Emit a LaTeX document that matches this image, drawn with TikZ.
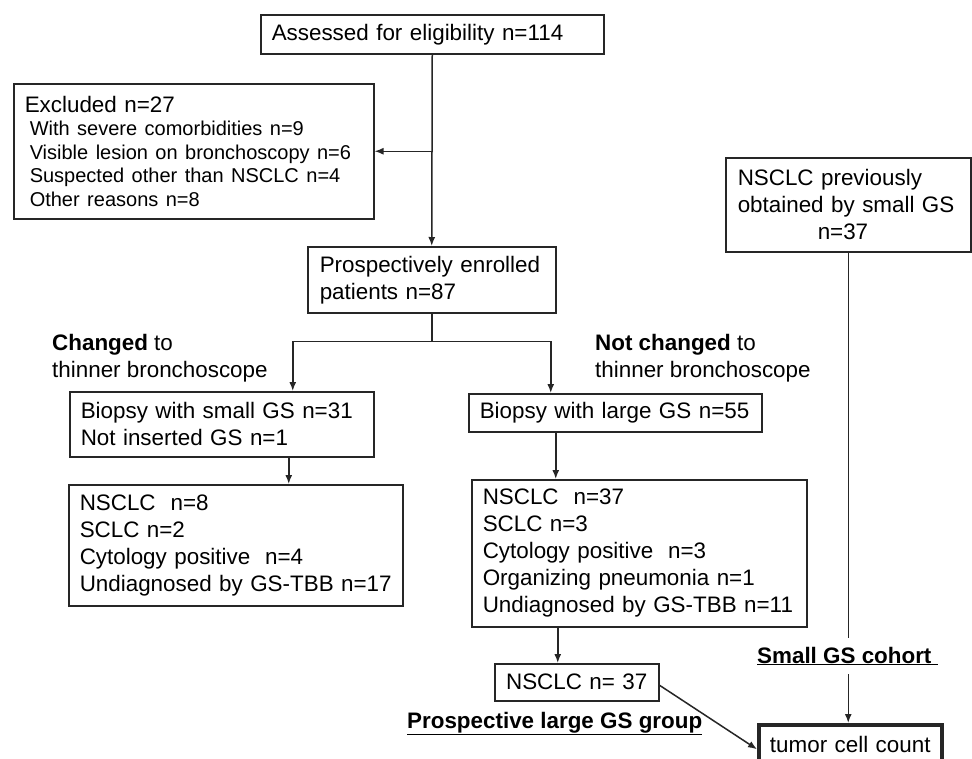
\documentclass[tikz,border=0pt]{standalone}
\usepackage{fontspec}
\setmainfont{Liberation Sans}
\usepackage{tikz}
\usetikzlibrary{arrows.meta,positioning,calc}
\setlength{\parindent}{0pt}
\newcommand{\FontBox}{\fontsize{22.4pt}{27pt}\selectfont}
\newcommand{\FontItem}{\fontsize{20pt}{23.5pt}\selectfont}
\tikzset{
  flowbox/.style={draw=black!85, line width=1.5pt, anchor=north west, align=left, inner xsep=11pt, inner ysep=0pt, font=\FontBox},
  flowlabel/.style={anchor=north west, inner sep=0pt, align=left, font=\FontBox},
  grouplabel/.style={anchor=base west, inner xsep=0pt, inner ysep=9pt, font=\FontBox},
  flowarrow/.style={draw=black!85, -{Latex[length=9pt,width=7pt]}, line width=1.5pt},
  flowline/.style={draw=black!85, line width=1.5pt}
}

\begin{document}
\begin{tikzpicture}[x=1pt,y=-1pt]

      \useasboundingbox[fill=white] (0,0) rectangle (972,758);
      \clip (0,0) rectangle (972,758);

      \node[flowbox, text width=321pt, minimum height=39pt] (assess) at (260,14) {Assessed for eligibility n=114};
      \node[flowbox, text width=338pt, minimum height=135pt] (excl) at (13,83) {Excluded n=27\par{\FontItem\leftskip=5pt With severe comorbidities n=9\\Visible lesion on bronchoscopy n=6\\Suspected other than NSCLC n=4\\Other reasons n=8\par}};
      \node[flowbox, text width=224pt, minimum height=66pt, inner xsep=12pt] (enrol) at (307,246) {Prospectively enrolled\\patients n=87};

      \node[flowlabel] (chg) at (52,334) {\textbf{Changed} to\\thinner bronchoscope};
      \node[flowlabel] (nochg) at (595,334) {\textbf{Not changed} to\\thinner bronchoscope};

      \node[flowbox, text width=282pt, minimum height=65pt] (sbiop) at (69,391) {Biopsy with small GS n=31\\Not inserted GS n=1};
      \node[flowbox, text width=271pt, minimum height=38pt] (lbiop) at (468,393) {Biopsy with large GS n=55};

      \node[flowbox, text width=312pt, minimum height=121pt] (sres) at (68,484) {NSCLC\ \ n=8\\SCLC n=2\\Cytology positive\ \ n=4\\Undiagnosed by GS-TBB n=17};
      \node[flowbox, text width=313pt, minimum height=147pt] (lres) at (471,479) {NSCLC\ \ n=37\\SCLC n=3\\Cytology positive\ \ n=3\\Organizing pneumonia n=1\\Undiagnosed by GS-TBB n=11};

      \node[flowbox, text width=142pt, minimum height=37pt, align=center] (lnsclc) at (494,663) {NSCLC n= 37};
      \node[grouplabel] (lgrp) at (407,728) {\underline{\textbf{Prospective large GS group}}};

      \node[flowbox, text width=221pt, minimum height=94pt, inner xsep=12pt] (prev) at (725,157) {NSCLC previously\\obtained by small GS\\\hspace*{80pt}n=37};
      \node[grouplabel] (scoh) at (757,663) {\underline{\textbf{Small GS cohort\ }}};
      \node[flowbox, line width=3.5pt, text width=161pt, minimum height=39pt, align=center] (tumor) at (757,723) {tumor cell count};

      % screening
      \coordinate (excsplit) at (assess.south |- excl.east);
      \draw[flowarrow] (assess.south) -- (enrol.north);
      \draw[flowarrow] (excsplit) -- (excl.east);

      % split into the two biopsy arms
      \coordinate (fork) at ($(enrol.south)+(0,28)$);
      \draw[flowline] (enrol.south) -- (fork);
      \draw[flowarrow] (fork) -| ([xshift=71pt]sbiop.north);
      \draw[flowarrow] (fork) -| ([xshift=-64.5pt]lbiop.north);

      \draw[flowarrow] ([xshift=67pt]sbiop.south) -- ([xshift=67pt]sbiop.south |- sres.north);
      \draw[flowarrow] ([xshift=-59.5pt]lbiop.south) -- ([xshift=-59.5pt]lbiop.south |- lres.north);
      \draw[flowarrow] ([xshift=-81.5pt]lres.south) -- ([xshift=-81.5pt]lres.south |- lnsclc.north);
      \draw[flowarrow] ([yshift=-3pt]lnsclc.east) -- ([yshift=-5pt]tumor.west);

      \draw[flowline] (prev.south) -- (prev.south |- scoh.north);
      \draw[flowarrow] (prev.south |- scoh.south) -- (prev.south |- tumor.north);
    \end{tikzpicture}
\end{document}
